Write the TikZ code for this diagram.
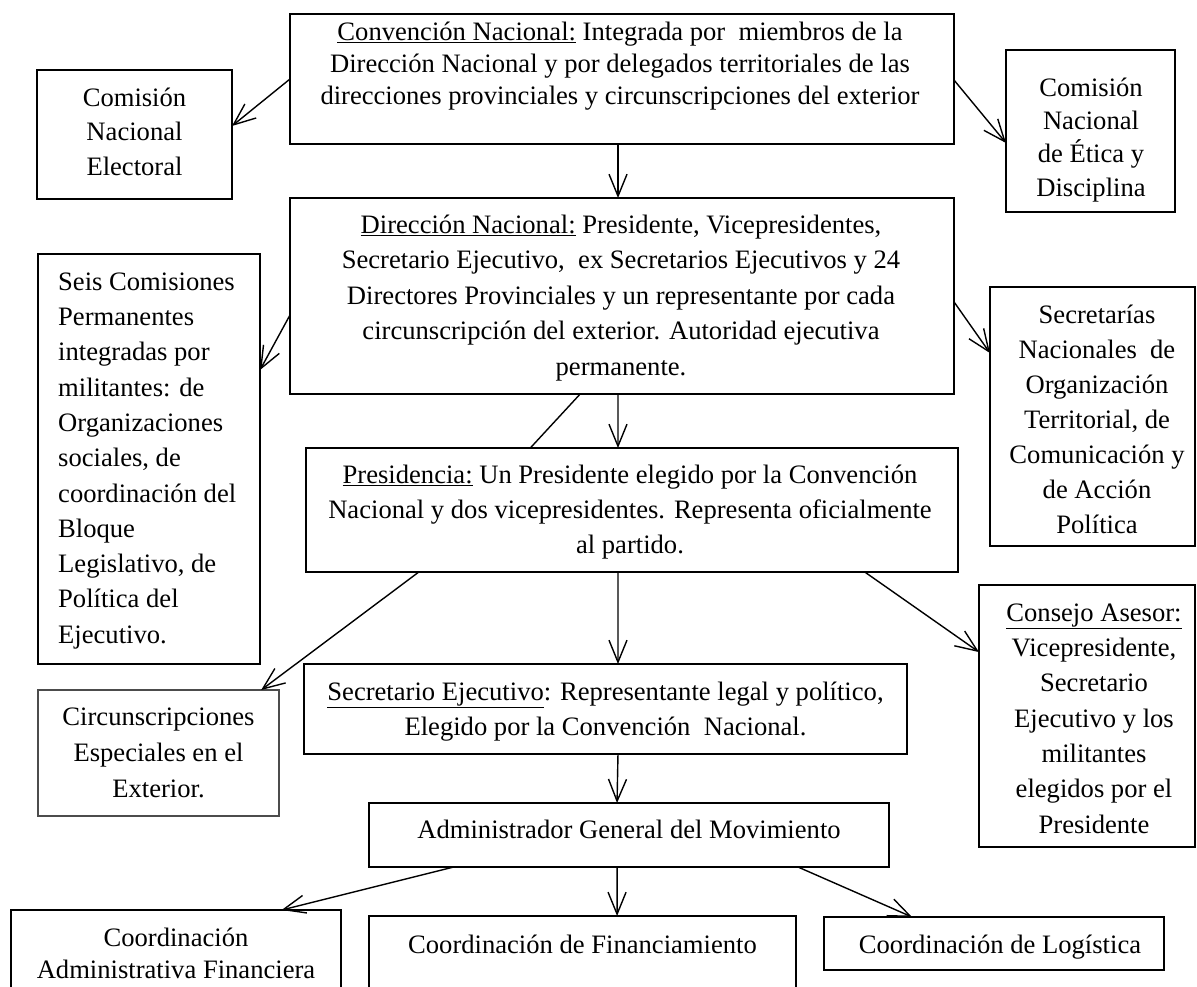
\documentclass[tikz,border=0pt]{standalone}
\usepackage{fontspec}
\setmainfont{Liberation Serif}
\usetikzlibrary{arrows.meta,calc}

\begin{document}
\begin{tikzpicture}[x=1pt,y=-1pt,
  box/.style={draw, rectangle, inner sep=0pt, outer sep=0pt, anchor=north west, line width=1.1pt},
  heavy/.style={box, line width=2pt},
  faint/.style={box, draw=black!70, line width=1.1pt},
  txt/.style={inner sep=0pt, anchor=north, align=center, font=\fontsize{26.6}{#1}\selectfont},
  txt/.default=35,
  ltxt/.style={inner sep=0pt, anchor=north west, align=left, font=\fontsize{26.6}{#1}\selectfont},
  arr/.style={line width=1.4pt, -{Straight Barb[length=22pt,width=18pt,line width=1.4pt]}},
  link/.style={line width=1.4pt}
]
\path[use as bounding box] (0,0) rectangle (1197,986);
\fill[white] (0,0) rectangle (1197,986);
\clip (0,0) rectangle (1197,986);

% boxes
\node[box,   minimum width=664pt, minimum height=130pt] (conv)     at (290,14)  {};
\node[box,   minimum width=195pt, minimum height=129pt] (cne)      at (37,70)   {};
\node[heavy, minimum width=169pt, minimum height=162pt] (etica)    at (1006,50) {};
\node[box,   minimum width=664pt, minimum height=196pt] (dir)      at (290,198) {};
\node[heavy, minimum width=222pt, minimum height=410pt] (seis)     at (38,254)  {};
\node[heavy, minimum width=205pt, minimum height=259pt] (sec)      at (990,287) {};
\node[heavy, minimum width=652pt, minimum height=124pt] (pres)     at (306,448) {};
\node[heavy, minimum width=216pt, minimum height=262pt] (consejo)  at (979,585) {};
\node[faint, minimum width=241pt, minimum height=126pt] (circ)     at (38,690)  {};
\node[heavy, minimum width=603pt, minimum height=90pt]  (secej)    at (304,664) {};
\node[heavy, minimum width=520pt, minimum height=64pt]  (admin)    at (369,803) {};
\node[heavy, minimum width=330pt, minimum height=100pt] (coordadm) at (11,910)  {};
\node[heavy, minimum width=427pt, minimum height=100pt] (coordfin) at (369,916) {};
\node[heavy, minimum width=340pt, minimum height=53pt]  (coordlog) at (824,917) {};

% texts
\node[txt=32] (conv-t) at (620,17.6) {\strut\underline{Convención Nacional:} Integrada por~ miembros de la\\
  Dirección Nacional y por delegados territoriales de las\\
  direcciones provinciales y circunscripciones del exterior};
\node[txt=34.5] (cne-t) at (134.5,81.9) {\strut Comisión\\Nacional\\Electoral};
\node[txt=33.3] (etica-t) at (1091,72.7) {\strut Comisión\\Nacional\\de Ética y\\Disciplina};
\node[txt=35.5] (dir-t) at (621,208.2) {\strut\underline{Dirección Nacional:} Presidente, Vicepresidentes,\\
  Secretario Ejecutivo,~ ex Secretarios Ejecutivos y 24\\
  Directores Provinciales y un representante por cada\\
  circunscripción del exterior. Autoridad ejecutiva\\
  permanente.};
\node[ltxt=35.3] (seis-t) at (58,265.3) {\strut Seis Comisiones\\Permanentes\\integradas por\\militantes: de\\
  Organizaciones\\sociales, de\\coordinación del\\Bloque\\Legislativo, de\\Política del\\Ejecutivo.};
\node[txt=35] (sec-t) at (1097,298.5) {\strut Secretarías\\Nacionales~ de\\Organización\\Territorial, de\\
  Comunicación y\\de Acción\\Política};
\node[txt=35] (pres-t) at (630,458.5) {\strut\underline{Presidencia:} Un Presidente elegido por la Convención\\
  Nacional y dos vicepresidentes. Representa oficialmente\\
  al partido.};
\node[txt=35.3] (consejo-t) at (1094,596.3) {\strut\underline{Consejo Asesor:}\\Vicepresidente,\\Secretario\\
  Ejecutivo y los\\militantes\\elegidos por el\\Presidente};
\node[txt=36] (circ-t) at (158.5,699.8) {\strut Circunscripciones\\Especiales en el\\Exterior.};
\node[txt=35] (secej-t) at (605.5,675.5) {\strut\underline{Secretario Ejecutivo}: Representante legal y político,\\
  Elegido por la Convención~ Nacional.};
\node[txt=35] (admin-t) at (629,813.5) {\strut Administrador General del Movimiento};
\node[txt=32] (coordadm-t) at (176,923.6) {\strut Coordinación\\Administrativa Financiera};
\node[txt=35] (coordfin-t) at (582.5,928.5) {\strut Coordinación de Financiamiento};
\node[txt=35] (coordlog-t) at (1000,928.5) {\strut Coordinación de Logística};

% connectors
\draw[arr] (conv.west) -- ($(cne.north east)!0.434!(cne.south east)$);
\draw[arr] ($(conv.north east)!0.508!(conv.south east)$) -- ($(etica.north west)!0.574!(etica.south west)$);
\draw[arr] ($(conv.south west)!0.494!(conv.south east)$) -- ($(dir.north west)!0.494!(dir.north east)$);
\draw[arr] ($(dir.north west)!0.597!(dir.south west)$) -- ($(seis.north east)!0.283!(seis.south east)$);
\draw[arr] ($(dir.north east)!0.53!(dir.south east)$) -- ($(sec.north west)!0.255!(sec.south west)$);
\draw[arr] ($(dir.south west)!0.494!(dir.south east)$) -- ($(pres.north west)!0.4785!(pres.north east)$);
\draw[link] ($(dir.south west)!0.437!(dir.south east)$) -- ($(pres.north west)!0.344!(pres.north east)$);
\draw[arr] ($(pres.south west)!0.173!(pres.south east)$) -- ($(circ.north west)!0.926!(circ.north east)$);
\draw[arr] ($(pres.south west)!0.4785!(pres.south east)$) -- ($(secej.north west)!0.5207!(secej.north east)$);
\draw[arr] ($(pres.south west)!0.857!(pres.south east)$) -- ($(consejo.north west)!0.256!(consejo.south west)$);
\draw[arr] ($(secej.south west)!0.5207!(secej.south east)$) -- ($(admin.north west)!0.477!(admin.north east)$);
\draw[arr] ($(admin.south west)!0.163!(admin.south east)$) -- ($(coordadm.north west)!0.82!(coordadm.north east)$);
\draw[arr] ($(admin.south west)!0.477!(admin.south east)$) -- ($(coordfin.north west)!0.581!(coordfin.north east)$);
\draw[arr] ($(admin.south west)!0.825!(admin.south east)$) -- ($(coordlog.north west)!0.259!(coordlog.north east)$);
\end{tikzpicture}
\end{document}
